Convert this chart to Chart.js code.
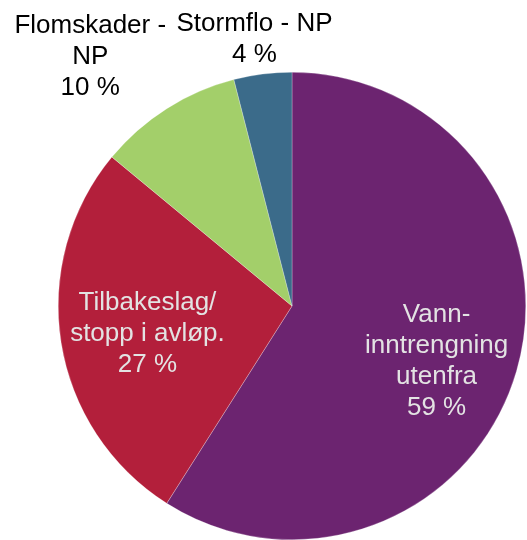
<!DOCTYPE html>
<html><head><meta charset="utf-8">
<script src="https://cdn.jsdelivr.net/npm/chart.js@4"></script>
<style>html,body{margin:0;padding:0;background:#fff}#wrap{width:527px;height:540px}</style>
</head><body><div id="wrap"><canvas id="c" width="527" height="540"></canvas></div>
<script>
const categories = ["Vann-\ninntrengning\nutenfra", "Tilbakeslag/\nstopp i avløp.", "Flomskader -\nNP", "Stormflo - NP"];
const values = [59, 27, 10, 4];
const valueLabels = ["59 %", "27 %", "10 %", "4 %"];

const colors = ["#6c2470", "#b31f3b", "#a3cf6a", "#3b6b8a"];
const textColors = ["#e3e3e3", "#e3e3e3", "#000000", "#000000"];
const labelRadius = [0.662, 0.630, 1.370, 1.152];
const labelShiftDeg = [4.7, -2, -6.65, -0.8];

const labelPlugin = {
  id: 'sliceLabels',
  afterDatasetsDraw(chart) {
    const ctx = chart.ctx;
    const meta = chart.getDatasetMeta(0);
    ctx.save();
    ctx.font = '26px "Liberation Sans", Arial, sans-serif';
    ctx.textAlign = 'center';
    ctx.textBaseline = 'middle';
    const lh = 31;
    meta.data.forEach((arc, i) => {
      const p = arc.getProps(['x','y','startAngle','endAngle','outerRadius'], true);
      const a = (p.startAngle + p.endAngle) / 2 + labelShiftDeg[i] * Math.PI / 180;
      const r = p.outerRadius * labelRadius[i];
      const cx = p.x + r * Math.cos(a);
      const cy = p.y + r * Math.sin(a);
      const lines = categories[i].split("\n").concat([valueLabels[i]]);
      const y0 = cy - (lines.length - 1) * lh / 2;
      ctx.fillStyle = textColors[i];
      lines.forEach((ln, k) => ctx.fillText(ln, cx, y0 + k * lh));
    });
    ctx.restore();
  }
};

new Chart(document.getElementById('c'), {
  type: 'pie',
  data: {
    labels: categories,
    datasets: [{
      data: values,
      backgroundColor: colors,
      borderColor: 'rgba(255,255,255,0.5)',
      borderWidth: 0.5
    }]
  },
  options: {
    responsive: false,
    animation: false,
    layout: { padding: { left: 58, right: 1, top: 72, bottom: 0 } },
    plugins: { legend: { display: false }, tooltip: { enabled: false } }
  },
  plugins: [labelPlugin]
});
</script>
</body></html>
